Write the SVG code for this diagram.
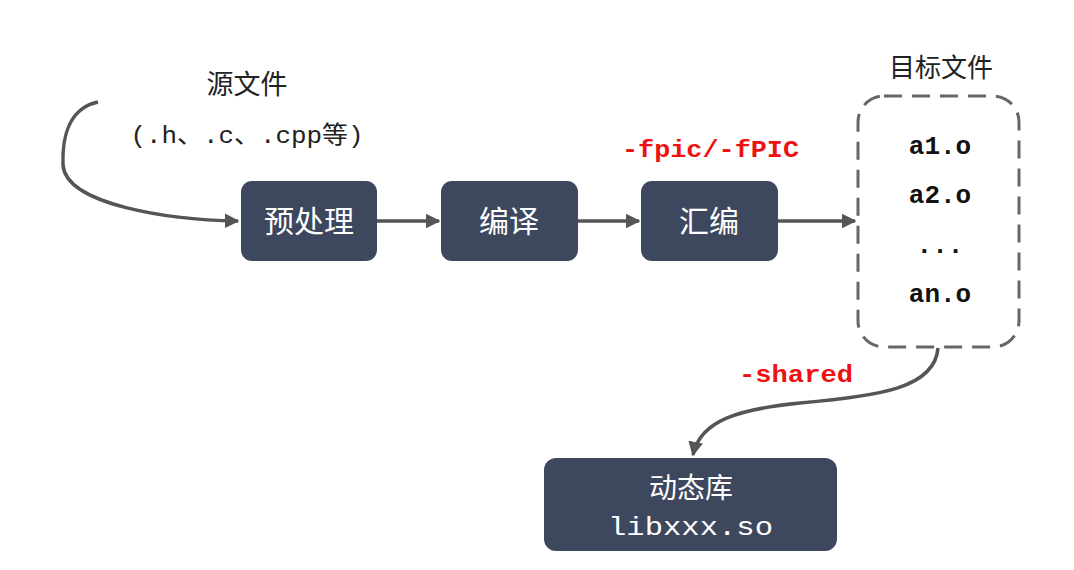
<svg xmlns="http://www.w3.org/2000/svg" width="1074" height="570" viewBox="0 0 1074 570">
<style>
.box{fill:#3d475e;}
.bt{fill:#ffffff;font-family:"Noto Sans CJK SC","Noto Sans",sans-serif;font-size:30px;text-anchor:middle;}
.lbl{fill:#222222;font-family:"Noto Sans CJK SC","Noto Sans",sans-serif;font-size:27px;text-anchor:middle;}
.ext{fill:#222222;font-family:"Liberation Mono","Noto Sans CJK SC",monospace;font-size:24px;text-anchor:middle;}
.obj{fill:#111111;font-family:"Liberation Mono",monospace;font-weight:bold;font-size:26px;text-anchor:middle;}
.red{fill:#ee1111;font-family:"Liberation Mono",monospace;font-weight:bold;font-size:24px;}
.so{fill:#ffffff;font-family:"Liberation Mono",monospace;font-size:26px;}
.conn{fill:none;stroke:#555555;stroke-width:3.5;}
</style>
<defs>
<marker id="ah" viewBox="0 0 10 10" refX="9" refY="5" markerWidth="4.2" markerHeight="4.2" markerUnits="strokeWidth" orient="auto">
<path d="M0,0 L10,5 L0,10 Z" fill="#555555"/>
</marker>
</defs>
<rect width="1074" height="570" fill="#ffffff"/>
<g id="connectors">
<path class="conn" d="M98,102 C70,108 62,135 63,165 C66,205 170,220 238,221" marker-end="url(#ah)"/>
<line class="conn" x1="377" y1="221" x2="439" y2="221" marker-end="url(#ah)"/>
<line class="conn" x1="578" y1="221" x2="639" y2="221" marker-end="url(#ah)"/>
<line class="conn" x1="778" y1="221" x2="855" y2="221" marker-end="url(#ah)"/>
<path class="conn" d="M938,348 C935,388 880,396 800,403 C740,409 700,420 693,455" marker-end="url(#ah)"/>
</g>
<g id="source-label">
<text class="lbl" x="247" y="94">源文件</text>
<text class="ext" x="247" y="143" textLength="233" lengthAdjust="spacingAndGlyphs">(.h、.c、.cpp等)</text>
</g>
<g id="preprocess">
<rect class="box" x="241" y="181" width="136" height="80" rx="11"/>
<text class="bt" x="309" y="232">预处理</text>
</g>
<g id="compile">
<rect class="box" x="441" y="181" width="137" height="80" rx="11"/>
<text class="bt" x="509" y="232">编译</text>
</g>
<g id="assemble">
<rect class="box" x="641" y="181" width="137" height="80" rx="11"/>
<text class="bt" x="709" y="232">汇编</text>
</g>
<g id="fpic-label">
<text class="red" x="622" y="157" textLength="177" lengthAdjust="spacingAndGlyphs">-fpic/-fPIC</text>
</g>
<g id="object-files">
<text class="lbl" x="941" y="77" style="font-size:26px">目标文件</text>
<rect x="858" y="96" width="161" height="251" rx="26" fill="none" stroke="#666666" stroke-width="3" stroke-dasharray="18 10"/>
<text class="obj" x="940" y="154">a1.o</text>
<text class="obj" x="940" y="203">a2.o</text>
<text class="obj" x="940" y="253">...</text>
<text class="obj" x="940" y="302">an.o</text>
</g>
<g id="shared-label">
<text class="red" x="739" y="382" textLength="114" lengthAdjust="spacingAndGlyphs">-shared</text>
</g>
<g id="shared-lib">
<rect class="box" x="544" y="458" width="293" height="93" rx="12"/>
<text class="bt" x="691" y="498" style="font-size:28px">动态库</text>
<text class="so" x="608" y="535" textLength="165" lengthAdjust="spacingAndGlyphs">libxxx.so</text>
</g>
</svg>
